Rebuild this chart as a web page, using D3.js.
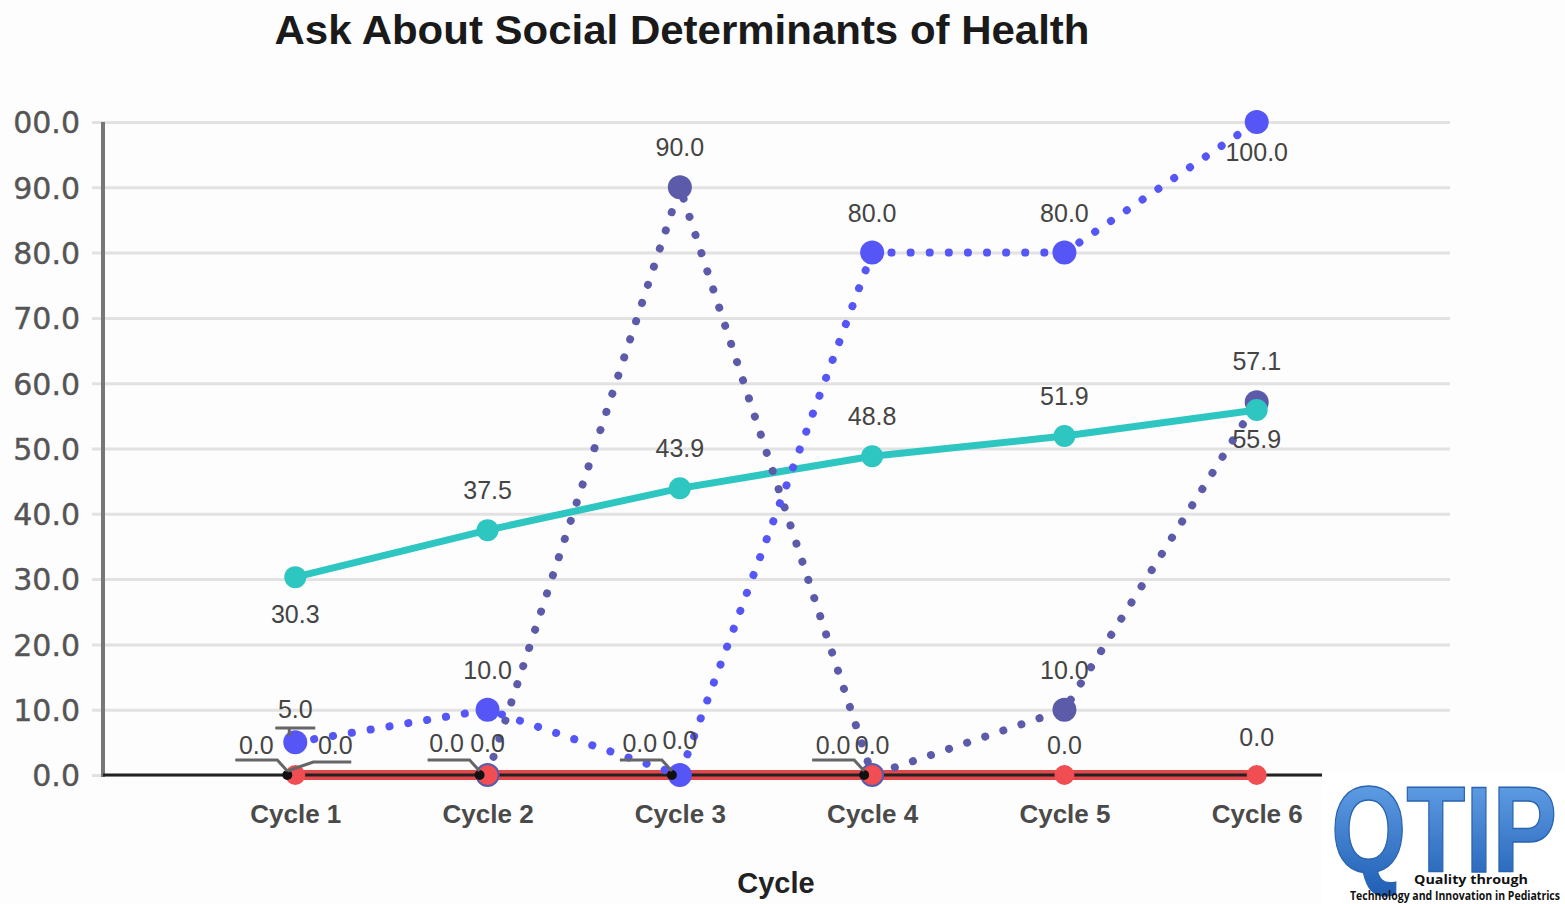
<!DOCTYPE html>
<meta charset="utf-8">
<script src="https://d3js.org/d3.v7.min.js"></script>

<style>
body {margin: 0; background: #fdfdfd;}
svg {display: block; font-family: "Liberation Sans", Arial, sans-serif;}
.grid line {stroke: #e2e2e2; stroke-width: 3;}
.ylab text {font-family: "DejaVu Sans", sans-serif; font-size: 30px; fill: #555; stroke: #555; stroke-width: 0.4;}
.xlab text {font-size: 26px; font-weight: bold; fill: #4a4a4a;}
.dlab {font-size: 25px; fill: #444; text-anchor: middle;}
.lead {fill: none; stroke: #666; stroke-width: 3;}
</style>

<svg width="1565" height="904"></svg>

<script>
var cycles = ["Cycle 1", "Cycle 2", "Cycle 3", "Cycle 4", "Cycle 5", "Cycle 6"];
var yTicks = [0, 10, 20, 30, 40, 50, 60, 70, 80, 90, 100];

var teal  = [30.3, 37.5, 43.9, 48.8, 51.9, 55.9];
var blue  = [5.0, 10.0, 0.0, 80.0, 80.0, 100.0];
var slate = [null, 0.0, 90.0, 0.0, 10.0, 57.1];
var red   = [0.0, 0.0, 0.0, 0.0, 0.0, 0.0];
var black = [0.0, 0.0, 0.0, 0.0, null, null];

var svg = d3.select("svg");

var x = d3.scalePoint().domain(cycles).range([103, 1449]).padding(1);
var y = d3.scaleLinear().domain([0, 100]).range([775, 122]);
var fmt = d3.format(".1f");

// title
svg.append("text")
    .attr("x", 682).attr("y", 44)
    .attr("text-anchor", "middle")
    .attr("textLength", 815).attr("lengthAdjust", "spacingAndGlyphs")
    .style("font-size", "41px").style("font-weight", "bold").style("fill", "#1a1a1a")
    .text("Ask About Social Determinants of Health");

// grid + y labels (left edge of the picture cuts the "1" of 100.0)
svg.append("clipPath").attr("id", "yclip")
  .append("rect").attr("x", -78).attr("y", 0).attr("width", 1500).attr("height", 904);

var gy = svg.append("g")
    .attr("class", "grid ylab")
    .attr("clip-path", "url(#yclip)")
    .attr("transform", "translate(92,0)")
    .call(d3.axisLeft(y).tickValues(yTicks).tickFormat(fmt)
        .tickSizeInner(-1358).tickSizeOuter(0).tickPadding(12));
gy.select(".domain").remove();
gy.selectAll("text").attr("dy", "0.36em");

svg.append("line")
    .attr("x1", 103).attr("x2", 103).attr("y1", 122).attr("y2", 777)
    .style("stroke", "#777").style("stroke-width", 4);

function pts(vals, dx) {
  return vals.map(function(v, i) { return {c: cycles[i], v: v, dx: dx || 0, i: i}; })
    .filter(function(d) { return d.v != null; });
}

var line = d3.line()
    .x(function(d) { return x(d.c) + d.dx; })
    .y(function(d) { return y(d.v); });

// red series under the axis
svg.append("path").datum(pts(red))
    .attr("d", line)
    .style("fill", "none").style("stroke", "#e5484b").style("stroke-width", 10);

// x axis
var gx = svg.append("g")
    .attr("class", "xlab")
    .attr("transform", "translate(0,775)")
    .call(d3.axisBottom(x).tickSize(0).tickPadding(30));
gx.select(".domain")
    .attr("d", "M103,0H1449")
    .style("stroke", "#222").style("stroke-width", 3);

svg.append("text")
    .attr("x", 776).attr("y", 893)
    .attr("text-anchor", "middle")
    .style("font-size", "29px").style("font-weight", "bold").style("fill", "#222")
    .text("Cycle");

// lines
svg.append("path").datum(pts(teal))
    .attr("d", line)
    .style("fill", "none").style("stroke", "#2ec6c0").style("stroke-width", 7);

[[slate, "#5b5baa"], [blue, "#5656f6"]].forEach(function(s) {
  svg.append("path").datum(pts(s[0]))
      .attr("d", line)
      .style("fill", "none").style("stroke", s[1]).style("stroke-width", 8)
      .style("stroke-linecap", "round").style("stroke-dasharray", "0.1 19");
});

// markers
function dots(vals, color, r, dx) {
  svg.append("g").selectAll("circle")
    .data(pts(vals, dx)).enter().append("circle")
      .attr("cx", function(d) { return x(d.c) + d.dx; })
      .attr("cy", function(d) { return y(d.v); })
      .attr("r", r)
      .style("fill", color);
}
dots(slate, "#5b5baa", 12);
dots(red, "#f04e52", 10);
dots(blue, "#5656f6", 12);
dots(teal, "#2ec6c0", 11);
dots(black, "#111", 5, -8);

// data labels: [dx, dy] per point, null = hidden
var labelPos = [
  [teal,  [[0, 46], [0, -31], [0, -31], [0, -31], [0, -31], [0, 38]]],
  [blue,  [[0, -24], [0, -31], [0, -26], [0, -31], [0, -31], [0, 39]]],
  [slate, [null, [0, -23], [0, -31], [0, -21], [0, -31], [0, -32]]],
  [red,   [[40, -21], null, null, null, [0, -21], [0, -29]]],
  [black, [[-39, -21], [-41, -23], [-40, -23], [-39, -21], null, null]]
];
labelPos.forEach(function(s) {
  var data = pts(s[0]).filter(function(d) { return s[1][d.i]; });
  svg.append("g").selectAll("text")
    .data(data).enter().append("text")
      .attr("class", "dlab")
      .attr("x", function(d) { return x(d.c) + s[1][d.i][0]; })
      .attr("y", function(d) { return y(d.v) + s[1][d.i][1]; })
      .text(function(d) { return fmt(d.v); });
});

// leader lines under the shifted zero labels
var lead = svg.append("g");
pts(black, -8).forEach(function(d) {
  var mx = x(d.c) + d.dx, lx = x(d.c) - 40;
  lead.append("path").attr("class", "lead")
      .attr("d", "M" + (lx - 20) + ",760H" + (lx + 22) + "L" + mx + ",771");
});
lead.append("path").attr("class", "lead")
    .attr("d", "M" + (x(cycles[0]) - 8) + ",771L" + (x(cycles[0]) + 18) + ",762H" + (x(cycles[0]) + 56));
lead.append("path").attr("class", "lead")
    .attr("d", "M" + (x(cycles[0]) - 20) + ",728H" + (x(cycles[0]) + 20) + "M" + (x(cycles[0]) - 6) + ",728V736");

// logo
var logo = svg.append("g");
var grad = svg.append("defs").append("linearGradient")
    .attr("id", "qg").attr("x1", 0).attr("x2", 0).attr("y1", 0).attr("y2", 1);
grad.append("stop").attr("offset", "0%").attr("stop-color", "#6aa8ec");
grad.append("stop").attr("offset", "100%").attr("stop-color", "#1f5db4");
logo.append("rect").attr("x", 1322).attr("y", 771).attr("width", 243).attr("height", 133)
    .style("fill", "#fff");
logo.append("text")
    .attr("x", 1331).attr("y", 872)
    .attr("textLength", 226).attr("lengthAdjust", "spacingAndGlyphs")
    .style("font-size", "122px").style("font-weight", "bold")
    .style("fill", "url(#qg)").style("stroke", "#2a64b0").style("stroke-width", 1.5)
    .text("QTIP");
logo.append("text")
    .attr("x", 1414).attr("y", 884)
    .attr("textLength", 114).attr("lengthAdjust", "spacingAndGlyphs")
    .style("font-family", "'Open Sans', sans-serif").style("font-size", "12px").style("font-weight", "bold")
    .style("fill", "#111")
    .text("Quality through");
logo.append("text")
    .attr("x", 1350).attr("y", 900)
    .attr("textLength", 210).attr("lengthAdjust", "spacingAndGlyphs")
    .style("font-family", "'Open Sans', sans-serif").style("font-size", "12px").style("font-weight", "bold")
    .style("fill", "#111")
    .text("Technology and Innovation in Pediatrics");
</script>
